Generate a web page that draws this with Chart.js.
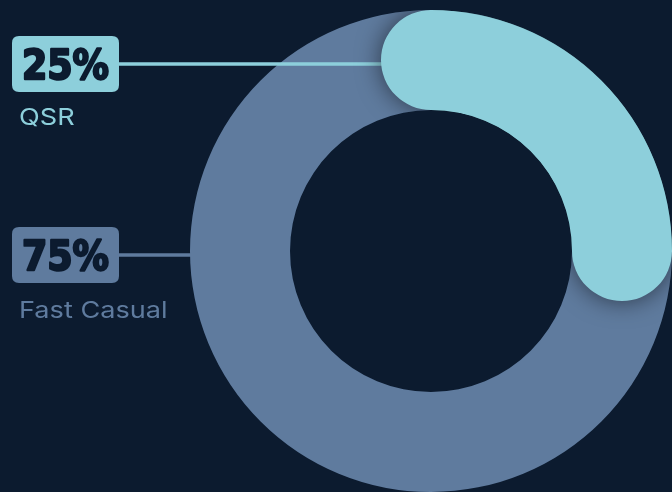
<!DOCTYPE html>
<html>
<head>
<meta charset="utf-8">
<script src="https://cdn.jsdelivr.net/npm/chart.js@4"></script>
<style>
  html, body { margin: 0; padding: 0; background: #0c1b2f; }
  #wrap { width: 672px; height: 492px; position: relative; }
</style>
</head>
<body>
<div id="wrap"><canvas id="c" width="672" height="492"></canvas></div>
<script>
// Segment share data
const categories = ['QSR', 'Fast Casual'];
const shares = [25, 75];
const valueLabels = ['25%', '75%'];

// Palette
const sliceColors = ['#8dcfdb', '#5f7b9e'];
const badgeText = '#0c1b2f';

// Callout layout (badge box + caption under it)
const callouts = [
  { badgeX: 12, badgeY: 36, captionY: 125 },
  { badgeX: 12, badgeY: 227, captionY: 318 }
];
const BADGE_W = 107, BADGE_H = 56, BADGE_R = 7;

function roundRect(ctx, x, y, w, h, r) {
  ctx.beginPath();
  ctx.moveTo(x + r, y);
  ctx.lineTo(x + w - r, y);
  ctx.quadraticCurveTo(x + w, y, x + w, y + r);
  ctx.lineTo(x + w, y + h - r);
  ctx.quadraticCurveTo(x + w, y + h, x + w - r, y + h);
  ctx.lineTo(x + r, y + h);
  ctx.quadraticCurveTo(x, y + h, x, y + h - r);
  ctx.lineTo(x, y + r);
  ctx.quadraticCurveTo(x, y, x + r, y);
  ctx.closePath();
}

// Draws text scaled by (sx, sy); optional outline thickens heavy labels
function scaledText(ctx, text, x, y, font, sx, sy, align, outline) {
  ctx.save();
  ctx.font = font;
  const w = ctx.measureText(text).width * sx;
  let left = x;
  if (align === 'center') left = x - w / 2;
  ctx.translate(left, y);
  ctx.scale(sx, sy);
  ctx.textAlign = 'left';
  if (outline) {
    ctx.strokeStyle = ctx.fillStyle;
    ctx.lineWidth = outline;
    ctx.lineJoin = 'round';
    ctx.strokeText(text, 0, 0);
  }
  ctx.fillText(text, 0, 0);
  ctx.restore();
}

const calloutPlugin = {
  id: 'callouts',
  afterDatasetsDraw(chart) {
    const ctx = chart.ctx;
    const arcs = chart.getDatasetMeta(0).data;

    arcs.forEach((arc, i) => {
      const p = arc.getProps(['x', 'y', 'startAngle', 'endAngle', 'innerRadius', 'outerRadius'], true);
      const c = callouts[i];
      const cy = c.badgeY + BADGE_H / 2;
      const x0 = c.badgeX + BADGE_W;
      // leader line ends on the slice: cap centre for the highlighted slice, ring edge otherwise
      let x1;
      if (i === 0) {
        const mid = (p.innerRadius + p.outerRadius) / 2;
        x1 = p.x + mid * Math.cos(p.startAngle);
      } else {
        const dy = cy - p.y;
        x1 = p.x - Math.sqrt(p.outerRadius * p.outerRadius - dy * dy);
      }
      ctx.save();
      ctx.strokeStyle = sliceColors[i];
      ctx.lineWidth = 3.5;
      ctx.beginPath();
      ctx.moveTo(x0 - 2, cy);
      ctx.lineTo(x1 + 1, cy);
      ctx.stroke();

      // badge
      ctx.fillStyle = sliceColors[i];
      roundRect(ctx, c.badgeX, c.badgeY, BADGE_W, BADGE_H, BADGE_R);
      ctx.fill();
      ctx.fillStyle = badgeText;
      ctx.textBaseline = 'alphabetic';
      scaledText(ctx, valueLabels[i], c.badgeX + BADGE_W / 2, cy + 14.5,
        'bold 35px "DejaVu Sans"', 1.04, 1.18, 'center', 2);

      // caption
      ctx.fillStyle = sliceColors[i];
      scaledText(ctx, categories[i], 19, c.captionY, '400 23px Inter', 1.18, 1, 'left');
      ctx.restore();
    });

    // highlighted slice redrawn as a round-capped band; its soft shadow stays on the ring
    const a = arcs[0].getProps(['x', 'y', 'startAngle', 'endAngle', 'innerRadius', 'outerRadius'], true);
    ctx.save();
    ctx.beginPath();
    ctx.arc(a.x, a.y, a.outerRadius, 0, Math.PI * 2);
    ctx.arc(a.x, a.y, a.innerRadius, 0, Math.PI * 2, true);
    ctx.clip();
    ctx.shadowColor = 'rgba(0, 0, 0, 0.55)';
    ctx.shadowBlur = 24;
    ctx.lineCap = 'round';
    ctx.lineWidth = a.outerRadius - a.innerRadius;
    ctx.strokeStyle = sliceColors[0];
    ctx.beginPath();
    ctx.arc(a.x, a.y, (a.innerRadius + a.outerRadius) / 2, a.startAngle, a.endAngle);
    ctx.stroke();
    ctx.restore();
  }
};

new Chart(document.getElementById('c'), {
  type: 'doughnut',
  data: {
    labels: categories,
    datasets: [{
      data: shares,
      backgroundColor: sliceColors,
      borderWidth: 0
    }]
  },
  options: {
    responsive: false,
    animation: false,
    cutout: '58.5%',
    layout: { padding: { left: 190, top: 10, right: 0, bottom: 0 } },
    plugins: {
      legend: { display: false },
      tooltip: { enabled: false }
    }
  },
  plugins: [calloutPlugin]
});
</script>
</body>
</html>
